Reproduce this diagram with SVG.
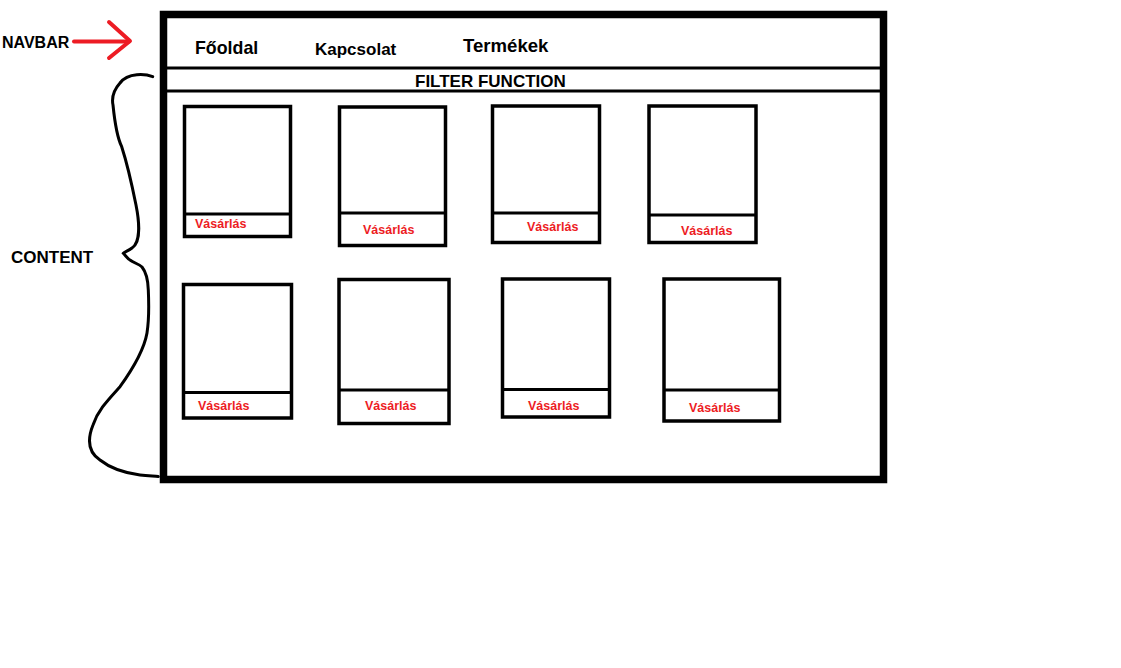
<svg xmlns="http://www.w3.org/2000/svg" width="1121" height="668" viewBox="0 0 1121 668">
<style>
.t{font-family:"Liberation Sans",Arial,sans-serif;font-weight:bold;fill:#000}
.r{font-family:"Liberation Sans",Arial,sans-serif;font-weight:bold;font-size:12.5px;fill:#ed1c24}
.box{fill:none;stroke:#000;stroke-width:3.5}
.ln{fill:none;stroke:#000;stroke-width:3}
</style>
<rect width="1121" height="668" fill="#fff"/>
<g id="frame">
<rect x="163.5" y="14.5" width="720" height="465" fill="none" stroke="#000" stroke-width="7.5"/>
<line class="ln" x1="163" y1="68" x2="884" y2="68"/>
<line class="ln" x1="163" y1="91" x2="884" y2="91"/>
</g>
<g id="navbar-items">
<text class="t" x="195" y="54" font-size="17.8">Főoldal</text>
<text class="t" x="315" y="55" font-size="17">Kapcsolat</text>
<text class="t" x="463" y="52" font-size="18.6">Termékek</text>
</g>
<g id="filter">
<text class="t" x="415" y="87" font-size="17">FILTER FUNCTION</text>
</g>
<g id="labels">
<text class="t" x="2" y="48" font-size="16">NAVBAR</text>
<text class="t" x="11" y="263" font-size="17">CONTENT</text>
</g>
<g id="connectors">
<g stroke="#ed1c24" stroke-width="4" fill="none" stroke-linecap="round" stroke-linejoin="round">
<line x1="74" y1="41.5" x2="129" y2="41.5"/>
<polyline points="109,22 130,41 109,58"/>
</g>
<path class="ln" stroke-linecap="round" d="M152.7,76.7 C146,74 128,72 120,83 C112,92 112,100 113,105 C114,115 116,135 121.7,146.7 C126,160 132,185 136,205 C140,225 140,243 132,248 C128,251 124,252 123.3,253.3 C126,256 128,259 130,260 C134,263 139,264 142,267 C146,272 148,280 148.3,290 C149,305 149,320 147,333 C144,350 132,370 120,386.7 C108,400 98,410 93,425 C87,440 88,452 100,460 C110,468 125,473 140,475 C148,476 154,476 158.3,476.5"/>
</g>
<g id="card1"><rect class="box" x="184.5" y="106.5" width="106" height="130"/><line class="ln" x1="184" y1="214" x2="291" y2="214"/><text class="r" x="195" y="228">Vásárlás</text></g>
<g id="card2"><rect class="box" x="339.5" y="107" width="106" height="138.5"/><line class="ln" x1="339" y1="213" x2="446" y2="213"/><text class="r" x="363" y="234">Vásárlás</text></g>
<g id="card3"><rect class="box" x="492.5" y="106" width="107" height="136.5"/><line class="ln" x1="492" y1="213" x2="600" y2="213"/><text class="r" x="527" y="231">Vásárlás</text></g>
<g id="card4"><rect class="box" x="649" y="106" width="107" height="136.5"/><line class="ln" x1="648" y1="215" x2="757" y2="215"/><text class="r" x="681" y="235">Vásárlás</text></g>
<g id="card5"><rect class="box" x="183.5" y="284.5" width="108" height="133.5"/><line class="ln" x1="183" y1="392.5" x2="292" y2="392.5"/><text class="r" x="198" y="410">Vásárlás</text></g>
<g id="card6"><rect class="box" x="339" y="279.5" width="110" height="144"/><line class="ln" x1="338" y1="390" x2="450" y2="390"/><text class="r" x="365" y="410">Vásárlás</text></g>
<g id="card7"><rect class="box" x="502.5" y="279" width="107" height="138"/><line class="ln" x1="502" y1="389.5" x2="610" y2="389.5"/><text class="r" x="528" y="410">Vásárlás</text></g>
<g id="card8"><rect class="box" x="664" y="279" width="115.5" height="142"/><line class="ln" x1="663" y1="390" x2="780" y2="390"/><text class="r" x="689" y="412">Vásárlás</text></g>
</svg>
